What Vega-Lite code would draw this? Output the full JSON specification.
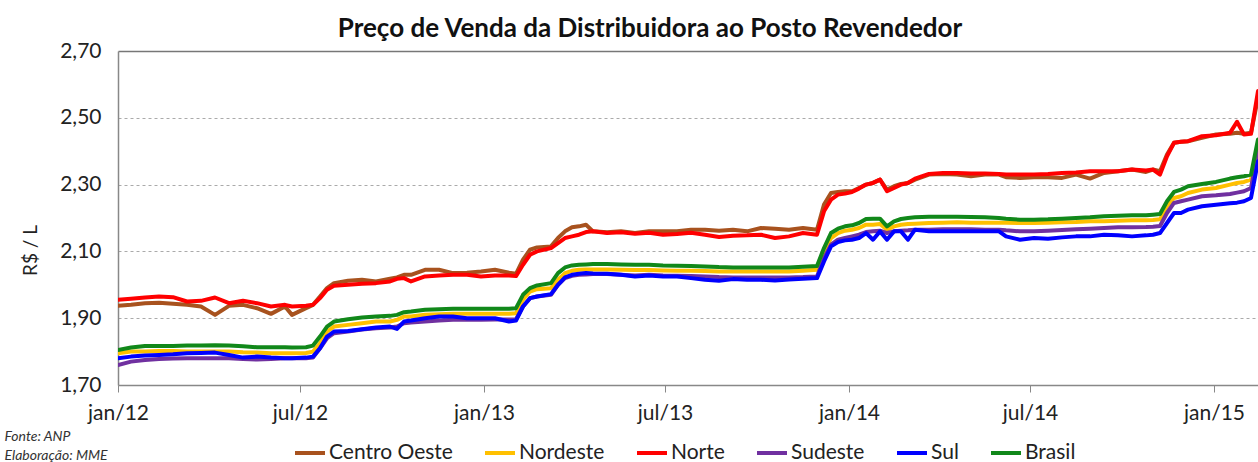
{
  "$schema": "https://vega.github.io/schema/vega-lite/v6.json",
  "width": 1140,
  "height": 334,
  "autosize": {"type": "none"},
  "padding": {"left": 118, "top": 51, "right": 0, "bottom": 77},
  "background": "white",
  "config": {
    "view": {"stroke": null},
    "font": "Lato"
  },
  "title": {
    "text": "Preço de Venda da Distribuidora ao Posto Revendedor",
    "font": "Lato",
    "fontSize": 26,
    "fontWeight": "bold",
    "color": "#111111",
    "anchor": "middle",
    "dx": -38,
    "dy": 11,
    "offset": 9
  },
  "data": {
    "values": [
      {"d": "2012-01-01", "Centro Oeste": 1.937, "Nordeste": 1.795, "Norte": 1.955, "Sudeste": 1.76, "Sul": 1.78, "Brasil": 1.805},
      {"d": "2012-01-14", "Centro Oeste": 1.94, "Nordeste": 1.8, "Norte": 1.958, "Sudeste": 1.77, "Sul": 1.785, "Brasil": 1.812},
      {"d": "2012-01-28", "Centro Oeste": 1.945, "Nordeste": 1.8, "Norte": 1.962, "Sudeste": 1.775, "Sul": 1.788, "Brasil": 1.817},
      {"d": "2012-02-11", "Centro Oeste": 1.946, "Nordeste": 1.802, "Norte": 1.965, "Sudeste": 1.778, "Sul": 1.79, "Brasil": 1.817},
      {"d": "2012-02-25", "Centro Oeste": 1.943, "Nordeste": 1.802, "Norte": 1.963, "Sudeste": 1.779, "Sul": 1.792, "Brasil": 1.817},
      {"d": "2012-03-10", "Centro Oeste": 1.94, "Nordeste": 1.8, "Norte": 1.95, "Sudeste": 1.78, "Sul": 1.795, "Brasil": 1.818},
      {"d": "2012-03-24", "Centro Oeste": 1.935, "Nordeste": 1.8, "Norte": 1.952, "Sudeste": 1.78, "Sul": 1.796, "Brasil": 1.818},
      {"d": "2012-04-07", "Centro Oeste": 1.91, "Nordeste": 1.8, "Norte": 1.962, "Sudeste": 1.78, "Sul": 1.797, "Brasil": 1.819},
      {"d": "2012-04-21", "Centro Oeste": 1.937, "Nordeste": 1.8, "Norte": 1.945, "Sudeste": 1.78, "Sul": 1.79, "Brasil": 1.818},
      {"d": "2012-05-05", "Centro Oeste": 1.94, "Nordeste": 1.798, "Norte": 1.952, "Sudeste": 1.778, "Sul": 1.782, "Brasil": 1.816},
      {"d": "2012-05-19", "Centro Oeste": 1.93, "Nordeste": 1.797, "Norte": 1.945, "Sudeste": 1.776, "Sul": 1.785, "Brasil": 1.813},
      {"d": "2012-06-02", "Centro Oeste": 1.913, "Nordeste": 1.795, "Norte": 1.935, "Sudeste": 1.778, "Sul": 1.782, "Brasil": 1.813},
      {"d": "2012-06-16", "Centro Oeste": 1.935, "Nordeste": 1.795, "Norte": 1.94, "Sudeste": 1.78, "Sul": 1.78, "Brasil": 1.813},
      {"d": "2012-06-23", "Centro Oeste": 1.91, "Nordeste": 1.795, "Norte": 1.935, "Sudeste": 1.78, "Sul": 1.78, "Brasil": 1.812},
      {"d": "2012-07-07", "Centro Oeste": 1.93, "Nordeste": 1.796, "Norte": 1.937, "Sudeste": 1.78, "Sul": 1.782, "Brasil": 1.813},
      {"d": "2012-07-14", "Centro Oeste": 1.94, "Nordeste": 1.8, "Norte": 1.94, "Sudeste": 1.782, "Sul": 1.785, "Brasil": 1.818},
      {"d": "2012-07-21", "Centro Oeste": 1.965, "Nordeste": 1.825, "Norte": 1.96, "Sudeste": 1.81, "Sul": 1.81, "Brasil": 1.845},
      {"d": "2012-07-28", "Centro Oeste": 1.99, "Nordeste": 1.86, "Norte": 1.985, "Sudeste": 1.84, "Sul": 1.845, "Brasil": 1.875},
      {"d": "2012-08-04", "Centro Oeste": 2.005, "Nordeste": 1.875, "Norte": 1.997, "Sudeste": 1.855, "Sul": 1.86, "Brasil": 1.89},
      {"d": "2012-08-18", "Centro Oeste": 2.012, "Nordeste": 1.88, "Norte": 2.0, "Sudeste": 1.86, "Sul": 1.862, "Brasil": 1.897},
      {"d": "2012-09-01", "Centro Oeste": 2.015, "Nordeste": 1.885, "Norte": 2.003, "Sudeste": 1.866, "Sul": 1.867, "Brasil": 1.902},
      {"d": "2012-09-15", "Centro Oeste": 2.01, "Nordeste": 1.89, "Norte": 2.005, "Sudeste": 1.87, "Sul": 1.872, "Brasil": 1.905},
      {"d": "2012-09-29", "Centro Oeste": 2.018, "Nordeste": 1.89, "Norte": 2.01, "Sudeste": 1.872, "Sul": 1.875, "Brasil": 1.907},
      {"d": "2012-10-06", "Centro Oeste": 2.022, "Nordeste": 1.895, "Norte": 2.018, "Sudeste": 1.875, "Sul": 1.868, "Brasil": 1.91},
      {"d": "2012-10-13", "Centro Oeste": 2.03, "Nordeste": 1.905, "Norte": 2.02, "Sudeste": 1.885, "Sul": 1.89, "Brasil": 1.918},
      {"d": "2012-10-20", "Centro Oeste": 2.03, "Nordeste": 1.905, "Norte": 2.01, "Sudeste": 1.887, "Sul": 1.893, "Brasil": 1.92},
      {"d": "2012-11-03", "Centro Oeste": 2.045, "Nordeste": 1.91, "Norte": 2.025, "Sudeste": 1.89, "Sul": 1.9, "Brasil": 1.925},
      {"d": "2012-11-17", "Centro Oeste": 2.045, "Nordeste": 1.912, "Norte": 2.028, "Sudeste": 1.893, "Sul": 1.905, "Brasil": 1.927},
      {"d": "2012-12-01", "Centro Oeste": 2.035, "Nordeste": 1.913, "Norte": 2.03, "Sudeste": 1.895, "Sul": 1.905, "Brasil": 1.928},
      {"d": "2012-12-15", "Centro Oeste": 2.036, "Nordeste": 1.913, "Norte": 2.03, "Sudeste": 1.895, "Sul": 1.9, "Brasil": 1.928},
      {"d": "2012-12-29", "Centro Oeste": 2.04, "Nordeste": 1.913, "Norte": 2.025, "Sudeste": 1.895, "Sul": 1.9, "Brasil": 1.928},
      {"d": "2013-01-12", "Centro Oeste": 2.045, "Nordeste": 1.913, "Norte": 2.028, "Sudeste": 1.896, "Sul": 1.9, "Brasil": 1.928},
      {"d": "2013-01-26", "Centro Oeste": 2.036, "Nordeste": 1.913, "Norte": 2.028, "Sudeste": 1.896, "Sul": 1.89, "Brasil": 1.928},
      {"d": "2013-02-02", "Centro Oeste": 2.033, "Nordeste": 1.915, "Norte": 2.026, "Sudeste": 1.897, "Sul": 1.893, "Brasil": 1.93},
      {"d": "2013-02-09", "Centro Oeste": 2.075, "Nordeste": 1.955, "Norte": 2.06, "Sudeste": 1.935, "Sul": 1.935, "Brasil": 1.97},
      {"d": "2013-02-16", "Centro Oeste": 2.105, "Nordeste": 1.98, "Norte": 2.09, "Sudeste": 1.96, "Sul": 1.96, "Brasil": 1.99},
      {"d": "2013-02-23", "Centro Oeste": 2.112, "Nordeste": 1.987, "Norte": 2.1, "Sudeste": 1.965, "Sul": 1.965, "Brasil": 1.998},
      {"d": "2013-03-09", "Centro Oeste": 2.115, "Nordeste": 1.99, "Norte": 2.11, "Sudeste": 1.97, "Sul": 1.972, "Brasil": 2.005},
      {"d": "2013-03-16", "Centro Oeste": 2.14, "Nordeste": 2.015, "Norte": 2.125, "Sudeste": 2.0, "Sul": 2.0, "Brasil": 2.035},
      {"d": "2013-03-23", "Centro Oeste": 2.16, "Nordeste": 2.035, "Norte": 2.14, "Sudeste": 2.02, "Sul": 2.022, "Brasil": 2.052},
      {"d": "2013-03-30", "Centro Oeste": 2.172, "Nordeste": 2.042, "Norte": 2.145, "Sudeste": 2.027, "Sul": 2.03, "Brasil": 2.058},
      {"d": "2013-04-06", "Centro Oeste": 2.175, "Nordeste": 2.045, "Norte": 2.15, "Sudeste": 2.03, "Sul": 2.033, "Brasil": 2.06},
      {"d": "2013-04-13", "Centro Oeste": 2.18, "Nordeste": 2.046, "Norte": 2.158, "Sudeste": 2.031, "Sul": 2.035, "Brasil": 2.061},
      {"d": "2013-04-20", "Centro Oeste": 2.16, "Nordeste": 2.046, "Norte": 2.16, "Sudeste": 2.032, "Sul": 2.034, "Brasil": 2.062},
      {"d": "2013-05-04", "Centro Oeste": 2.157, "Nordeste": 2.046, "Norte": 2.155, "Sudeste": 2.032, "Sul": 2.033, "Brasil": 2.062},
      {"d": "2013-05-18", "Centro Oeste": 2.16, "Nordeste": 2.045, "Norte": 2.157, "Sudeste": 2.03, "Sul": 2.03, "Brasil": 2.061},
      {"d": "2013-06-01", "Centro Oeste": 2.155, "Nordeste": 2.044, "Norte": 2.153, "Sudeste": 2.028, "Sul": 2.025, "Brasil": 2.06},
      {"d": "2013-06-15", "Centro Oeste": 2.16, "Nordeste": 2.044, "Norte": 2.156, "Sudeste": 2.03, "Sul": 2.028, "Brasil": 2.06},
      {"d": "2013-06-29", "Centro Oeste": 2.16, "Nordeste": 2.043, "Norte": 2.15, "Sudeste": 2.028, "Sul": 2.025, "Brasil": 2.058},
      {"d": "2013-07-13", "Centro Oeste": 2.16, "Nordeste": 2.042, "Norte": 2.152, "Sudeste": 2.027, "Sul": 2.025, "Brasil": 2.057},
      {"d": "2013-07-27", "Centro Oeste": 2.165, "Nordeste": 2.042, "Norte": 2.156, "Sudeste": 2.026, "Sul": 2.02, "Brasil": 2.056},
      {"d": "2013-08-10", "Centro Oeste": 2.165, "Nordeste": 2.041, "Norte": 2.15, "Sudeste": 2.025, "Sul": 2.015, "Brasil": 2.055},
      {"d": "2013-08-24", "Centro Oeste": 2.162, "Nordeste": 2.04, "Norte": 2.143, "Sudeste": 2.023, "Sul": 2.012, "Brasil": 2.053},
      {"d": "2013-09-07", "Centro Oeste": 2.165, "Nordeste": 2.04, "Norte": 2.147, "Sudeste": 2.022, "Sul": 2.017, "Brasil": 2.052},
      {"d": "2013-09-21", "Centro Oeste": 2.16, "Nordeste": 2.04, "Norte": 2.148, "Sudeste": 2.022, "Sul": 2.015, "Brasil": 2.052},
      {"d": "2013-10-05", "Centro Oeste": 2.17, "Nordeste": 2.04, "Norte": 2.15, "Sudeste": 2.022, "Sul": 2.015, "Brasil": 2.052},
      {"d": "2013-10-19", "Centro Oeste": 2.168, "Nordeste": 2.04, "Norte": 2.14, "Sudeste": 2.022, "Sul": 2.013, "Brasil": 2.052},
      {"d": "2013-11-02", "Centro Oeste": 2.165, "Nordeste": 2.04, "Norte": 2.145, "Sudeste": 2.022, "Sul": 2.016, "Brasil": 2.052},
      {"d": "2013-11-16", "Centro Oeste": 2.17, "Nordeste": 2.042, "Norte": 2.155, "Sudeste": 2.023, "Sul": 2.018, "Brasil": 2.054},
      {"d": "2013-11-30", "Centro Oeste": 2.165, "Nordeste": 2.045, "Norte": 2.15, "Sudeste": 2.025, "Sul": 2.02, "Brasil": 2.056},
      {"d": "2013-12-07", "Centro Oeste": 2.24, "Nordeste": 2.1, "Norte": 2.22, "Sudeste": 2.08, "Sul": 2.07, "Brasil": 2.11},
      {"d": "2013-12-14", "Centro Oeste": 2.275, "Nordeste": 2.14, "Norte": 2.255, "Sudeste": 2.12, "Sul": 2.115, "Brasil": 2.155},
      {"d": "2013-12-21", "Centro Oeste": 2.278, "Nordeste": 2.155, "Norte": 2.27, "Sudeste": 2.135, "Sul": 2.128, "Brasil": 2.168},
      {"d": "2013-12-28", "Centro Oeste": 2.28, "Nordeste": 2.162, "Norte": 2.273, "Sudeste": 2.14, "Sul": 2.133, "Brasil": 2.175},
      {"d": "2014-01-04", "Centro Oeste": 2.28, "Nordeste": 2.165, "Norte": 2.278, "Sudeste": 2.145, "Sul": 2.135, "Brasil": 2.178},
      {"d": "2014-01-11", "Centro Oeste": 2.29, "Nordeste": 2.17, "Norte": 2.288, "Sudeste": 2.15, "Sul": 2.14, "Brasil": 2.185},
      {"d": "2014-01-18", "Centro Oeste": 2.3, "Nordeste": 2.18, "Norte": 2.3, "Sudeste": 2.158, "Sul": 2.155, "Brasil": 2.197},
      {"d": "2014-01-25", "Centro Oeste": 2.305, "Nordeste": 2.18, "Norte": 2.305, "Sudeste": 2.16, "Sul": 2.135, "Brasil": 2.198},
      {"d": "2014-02-01", "Centro Oeste": 2.315, "Nordeste": 2.182, "Norte": 2.315, "Sudeste": 2.162, "Sul": 2.16, "Brasil": 2.198},
      {"d": "2014-02-08", "Centro Oeste": 2.285, "Nordeste": 2.165, "Norte": 2.28, "Sudeste": 2.155, "Sul": 2.135, "Brasil": 2.175},
      {"d": "2014-02-15", "Centro Oeste": 2.295, "Nordeste": 2.175, "Norte": 2.29, "Sudeste": 2.16, "Sul": 2.16, "Brasil": 2.19},
      {"d": "2014-02-22", "Centro Oeste": 2.302, "Nordeste": 2.18, "Norte": 2.3, "Sudeste": 2.162, "Sul": 2.16, "Brasil": 2.197},
      {"d": "2014-03-01", "Centro Oeste": 2.305, "Nordeste": 2.182, "Norte": 2.305, "Sudeste": 2.163, "Sul": 2.135, "Brasil": 2.2},
      {"d": "2014-03-08", "Centro Oeste": 2.315, "Nordeste": 2.183, "Norte": 2.318, "Sudeste": 2.165, "Sul": 2.165, "Brasil": 2.202},
      {"d": "2014-03-22", "Centro Oeste": 2.33, "Nordeste": 2.185, "Norte": 2.332, "Sudeste": 2.165, "Sul": 2.16, "Brasil": 2.204},
      {"d": "2014-04-05", "Centro Oeste": 2.332, "Nordeste": 2.186, "Norte": 2.335, "Sudeste": 2.166, "Sul": 2.16, "Brasil": 2.204},
      {"d": "2014-04-19", "Centro Oeste": 2.33, "Nordeste": 2.187, "Norte": 2.335, "Sudeste": 2.166, "Sul": 2.16, "Brasil": 2.204},
      {"d": "2014-05-03", "Centro Oeste": 2.325, "Nordeste": 2.186, "Norte": 2.333, "Sudeste": 2.166, "Sul": 2.16, "Brasil": 2.203},
      {"d": "2014-05-17", "Centro Oeste": 2.33, "Nordeste": 2.186, "Norte": 2.333, "Sudeste": 2.165, "Sul": 2.16, "Brasil": 2.202},
      {"d": "2014-05-31", "Centro Oeste": 2.33, "Nordeste": 2.186, "Norte": 2.332, "Sudeste": 2.165, "Sul": 2.16, "Brasil": 2.2},
      {"d": "2014-06-07", "Centro Oeste": 2.322, "Nordeste": 2.186, "Norte": 2.33, "Sudeste": 2.163, "Sul": 2.145, "Brasil": 2.198},
      {"d": "2014-06-21", "Centro Oeste": 2.32, "Nordeste": 2.185, "Norte": 2.33, "Sudeste": 2.16, "Sul": 2.135, "Brasil": 2.195},
      {"d": "2014-07-05", "Centro Oeste": 2.322, "Nordeste": 2.185, "Norte": 2.33, "Sudeste": 2.16, "Sul": 2.14, "Brasil": 2.195},
      {"d": "2014-07-19", "Centro Oeste": 2.322, "Nordeste": 2.186, "Norte": 2.332, "Sudeste": 2.162, "Sul": 2.138, "Brasil": 2.196},
      {"d": "2014-08-02", "Centro Oeste": 2.32, "Nordeste": 2.187, "Norte": 2.335, "Sudeste": 2.164, "Sul": 2.142, "Brasil": 2.198},
      {"d": "2014-08-16", "Centro Oeste": 2.33, "Nordeste": 2.188, "Norte": 2.336, "Sudeste": 2.166, "Sul": 2.145, "Brasil": 2.2},
      {"d": "2014-08-30", "Centro Oeste": 2.318, "Nordeste": 2.19, "Norte": 2.34, "Sudeste": 2.168, "Sul": 2.145, "Brasil": 2.202},
      {"d": "2014-09-13", "Centro Oeste": 2.335, "Nordeste": 2.19, "Norte": 2.34, "Sudeste": 2.17, "Sul": 2.15, "Brasil": 2.205},
      {"d": "2014-09-27", "Centro Oeste": 2.34, "Nordeste": 2.192, "Norte": 2.34, "Sudeste": 2.172, "Sul": 2.148, "Brasil": 2.207},
      {"d": "2014-10-11", "Centro Oeste": 2.345, "Nordeste": 2.193, "Norte": 2.345, "Sudeste": 2.172, "Sul": 2.145, "Brasil": 2.208},
      {"d": "2014-10-25", "Centro Oeste": 2.338, "Nordeste": 2.193, "Norte": 2.342, "Sudeste": 2.173, "Sul": 2.148, "Brasil": 2.208},
      {"d": "2014-11-01", "Centro Oeste": 2.345, "Nordeste": 2.194, "Norte": 2.345, "Sudeste": 2.174, "Sul": 2.15, "Brasil": 2.21},
      {"d": "2014-11-08", "Centro Oeste": 2.34, "Nordeste": 2.196, "Norte": 2.33, "Sudeste": 2.176, "Sul": 2.155, "Brasil": 2.212},
      {"d": "2014-11-15", "Centro Oeste": 2.39, "Nordeste": 2.235, "Norte": 2.385, "Sudeste": 2.215, "Sul": 2.185, "Brasil": 2.25},
      {"d": "2014-11-22", "Centro Oeste": 2.425, "Nordeste": 2.26, "Norte": 2.425, "Sudeste": 2.245, "Sul": 2.215, "Brasil": 2.278},
      {"d": "2014-11-29", "Centro Oeste": 2.428, "Nordeste": 2.265, "Norte": 2.428, "Sudeste": 2.25, "Sul": 2.215, "Brasil": 2.285},
      {"d": "2014-12-06", "Centro Oeste": 2.43, "Nordeste": 2.275, "Norte": 2.43, "Sudeste": 2.255, "Sul": 2.225, "Brasil": 2.295},
      {"d": "2014-12-20", "Centro Oeste": 2.44, "Nordeste": 2.285, "Norte": 2.445, "Sudeste": 2.265, "Sul": 2.235, "Brasil": 2.302},
      {"d": "2015-01-03", "Centro Oeste": 2.45, "Nordeste": 2.29, "Norte": 2.448, "Sudeste": 2.268, "Sul": 2.24, "Brasil": 2.308},
      {"d": "2015-01-17", "Centro Oeste": 2.452, "Nordeste": 2.3, "Norte": 2.455, "Sudeste": 2.272, "Sul": 2.244, "Brasil": 2.318},
      {"d": "2015-01-24", "Centro Oeste": 2.455, "Nordeste": 2.305, "Norte": 2.488, "Sudeste": 2.276, "Sul": 2.246, "Brasil": 2.322},
      {"d": "2015-01-31", "Centro Oeste": 2.452, "Nordeste": 2.308, "Norte": 2.45, "Sudeste": 2.28, "Sul": 2.25, "Brasil": 2.325},
      {"d": "2015-02-07", "Centro Oeste": 2.455, "Nordeste": 2.315, "Norte": 2.452, "Sudeste": 2.29, "Sul": 2.26, "Brasil": 2.33},
      {"d": "2015-02-14", "Centro Oeste": 2.56, "Nordeste": 2.42, "Norte": 2.58, "Sudeste": 2.4, "Sul": 2.37, "Brasil": 2.435}
    ]
  },
  "transform": [
    {"fold": ["Centro Oeste", "Nordeste", "Norte", "Sudeste", "Sul", "Brasil"], "as": ["regiao", "preco"]}
  ],
  "mark": {"type": "line", "strokeWidth": 4, "strokeJoin": "round", "strokeCap": "round", "clip": true},
  "encoding": {
    "x": {
      "field": "d",
      "type": "temporal",
      "scale": {
        "type": "utc",
        "domain": [
          {"year": 2012, "month": 1, "date": 1, "utc": true},
          {"year": 2015, "month": 2, "date": 14, "utc": true}
        ]
      },
      "axis": {
        "values": [
          {"year": 2012, "month": 1, "date": 1, "utc": true},
          {"year": 2012, "month": 7, "date": 1, "utc": true},
          {"year": 2013, "month": 1, "date": 1, "utc": true},
          {"year": 2013, "month": 7, "date": 1, "utc": true},
          {"year": 2014, "month": 1, "date": 1, "utc": true},
          {"year": 2014, "month": 7, "date": 1, "utc": true},
          {"year": 2015, "month": 1, "date": 1, "utc": true}
        ],
        "labelExpr": "(utcFormat(datum.value, '%m') == '01' ? 'jan' : 'jul') + '/' + utcFormat(datum.value, '%y')",
        "labelFont": "Lato",
        "labelFontSize": 21,
        "labelColor": "#222222",
        "labelPadding": 10,
        "labelFlush": false,
        "labelOverlap": false,
        "tickSize": 7,
        "tickColor": "#888888",
        "domainColor": "#888888",
        "domainWidth": 1.5,
        "grid": false,
        "title": ["Fonte: ANP", "Elaboração: MME"],
        "titleFont": "Lato",
        "titleFontSize": 14,
        "titleFontStyle": "italic",
        "titleFontWeight": "normal",
        "titleColor": "#333333",
        "titleAlign": "left",
        "titleBaseline": "top",
        "titleLineHeight": 19,
        "titleX": -114,
        "titleY": 44
      }
    },
    "y": {
      "field": "preco",
      "type": "quantitative",
      "scale": {"domain": [1.7, 2.7], "zero": false, "nice": false},
      "axis": {
        "values": [1.7, 1.9, 2.1, 2.3, 2.5, 2.7],
        "labelExpr": "replace(format(datum.value, '.2f'), '.', ',')",
        "labelFont": "Lato",
        "labelFontSize": 21,
        "labelColor": "#222222",
        "labelPadding": 17,
        "ticks": false,
        "domainColor": "#888888",
        "domainWidth": 1.5,
        "grid": true,
        "gridColor": {"condition": {"test": "datum.value >= 2.69", "value": "#777777"}, "value": "#aaaaaa"},
        "gridDash": {"condition": {"test": "datum.value >= 2.69", "value": []}, "value": [3, 3]},
        "gridWidth": {"condition": {"test": "datum.value >= 2.69", "value": 1.5}, "value": 1},
        "title": "R$ / L",
        "titleFont": "Lato",
        "titleFontSize": 19,
        "titleFontWeight": "normal",
        "titleColor": "#222222",
        "titleX": -88,
        "titleY": 199,
        "titleAngle": -90,
        "titleAlign": "center",
        "titleBaseline": "middle"
      }
    },
    "color": {
      "field": "regiao",
      "type": "nominal",
      "scale": {
        "domain": ["Centro Oeste", "Nordeste", "Norte", "Sudeste", "Sul", "Brasil"],
        "range": ["#A8521E", "#FFC000", "#FF0000", "#7030A0", "#0000FF", "#11881A"]
      },
      "legend": {
        "title": null,
        "orient": "none",
        "direction": "horizontal",
        "legendX": 175,
        "legendY": 385,
        "symbolType": "stroke",
        "symbolSize": 900,
        "symbolStrokeWidth": 4,
        "labelFont": "Lato",
        "labelFontSize": 21,
        "labelColor": "#222222",
        "labelOffset": 2,
        "columnPadding": 24,
        "labelLimit": 300
      }
    },
    "order": {"field": "d", "type": "temporal"}
  }
}
